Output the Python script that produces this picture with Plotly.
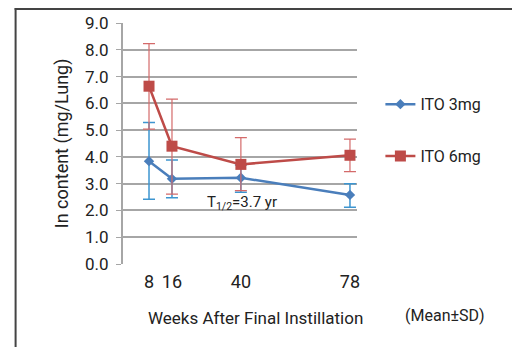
import plotly.graph_objects as go

weeks = [8, 16, 40, 78]
ito3_mean = [3.84, 3.18, 3.22, 2.58]
ito3_upper = [5.28, 3.88, 3.70, 3.00]
ito3_lower = [2.42, 2.47, 2.68, 2.12]
ito6_mean = [6.64, 4.40, 3.72, 4.06]
ito6_upper = [8.23, 6.16, 4.72, 4.66]
ito6_lower = [5.04, 2.61, 2.74, 3.45]
y_ticks = [0, 1, 2, 3, 4, 5, 6, 7, 8, 9]

FONT = "Roboto, Liberation Sans, sans-serif"

def err(mean, up, lo):
    return dict(type="data", symmetric=False,
                array=[u - m for u, m in zip(up, mean)],
                arrayminus=[m - l for m, l in zip(mean, lo)])

fig = go.Figure()
fig.add_trace(go.Scatter(
    x=weeks, y=ito3_mean, name="ITO 3mg", mode="lines+markers",
    line=dict(color="#4a7ebb", width=2.5),
    marker=dict(symbol="diamond", size=8, color="#4a7ebb"),
    error_y=dict(**err(ito3_mean, ito3_upper, ito3_lower), color="#3d95d0",
                 thickness=1.5, width=6),
    legendgroup="a"))
fig.add_trace(go.Scatter(
    x=weeks, y=ito6_mean, name="ITO 6mg", mode="lines+markers",
    line=dict(color="#be4b48", width=2.5),
    marker=dict(symbol="square", size=11, color="#be4b48"),
    error_y=dict(**err(ito6_mean, ito6_upper, ito6_lower), color="#d46a6a",
                 thickness=1.2, width=6),
    legendgroup="b"))

fig.update_layout(
    width=512, height=339,
    margin=dict(l=115, r=163, t=15, b=83, autoexpand=False),
    paper_bgcolor="white", plot_bgcolor="white",
    font=dict(family=FONT, color="#222222", size=16),
    showlegend=True,
    legend=dict(x=1.1, y=0.555, xanchor="left", yanchor="middle",
                tracegroupgap=28, font=dict(size=16, color="#222222"),
                bgcolor="rgba(0,0,0,0)"),
    xaxis=dict(range=[-1.06, 80.45], tickvals=weeks, ticktext=[str(w) for w in weeks],
               showgrid=False, zeroline=False, showline=False, ticks="",
               tickfont=dict(size=18), ticklabelstandoff=5, automargin=False),
    yaxis=dict(range=[0, 9], tickvals=y_ticks,
               ticktext=[f"{v:.1f}\u00a0" for v in y_ticks],
               showgrid=True, gridcolor="#a6a6a6", gridwidth=1.5,
               zeroline=False, showline=True, linecolor="#a6a6a6", linewidth=1.5,
               ticks="outside", ticklen=5, tickcolor="#a6a6a6",
               tickfont=dict(size=17), automargin=False),
    annotations=[
        dict(x=-0.262, y=0.5, xref="paper", yref="paper", showarrow=False,
             text="In content (mg/Lung)", textangle=-90,
             font=dict(size=18, color="#222222"),
             xanchor="center", yanchor="middle"),
        dict(x=0.568, y=-0.222, xref="paper", yref="paper", showarrow=False,
             text="Weeks After Final Instillation", font=dict(size=17, color="#222222"),
             xanchor="center", yanchor="middle"),
        dict(x=0.51, y=0.255, xref="paper", yref="paper", showarrow=False,
             text="T<sub>1/2</sub>=3.7 yr", font=dict(size=15, color="#222222"),
             xanchor="center", yanchor="middle"),
        dict(x=1.376, y=-0.212, xref="paper", yref="paper", showarrow=False,
             text="(Mean±SD)", font=dict(size=16, color="#222222"),
             xanchor="center", yanchor="middle"),
    ],
    shapes=[
        dict(type="line", xref="paper", yref="paper", x0=-0.463, x1=1.7, y0=1.058, y1=1.058,
             line=dict(color="#444444", width=2)),
        dict(type="line", xref="paper", yref="paper", x0=-0.459, x1=-0.459, y0=1.062, y1=-0.35,
             line=dict(color="#444444", width=2)),
    ],
)

fig.write_html("out.html")
